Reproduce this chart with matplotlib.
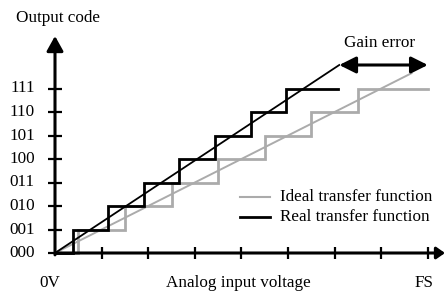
import numpy as np
import matplotlib.pyplot as plt

# ===============================
# Data (in LSB units)
# ===============================
codes = [0, 1, 2, 3, 4, 5, 6, 7]
code_labels = ["000", "001", "010", "011", "100", "101", "110", "111"]
ideal_transitions = [0.5, 1.5, 2.5, 3.5, 4.5, 5.5, 6.5]
real_transitions = [0.38, 1.14, 1.9, 2.67, 3.44, 4.2, 4.96]
ideal_end = 8.0
real_end = 6.07
ideal_line = ([0, 7.65], [0, 7.65])
real_line = ([0, 6.1], [0, 8.0])
x_ticks = [1, 2, 3, 4, 5, 6, 7, 8]
gain_error = (6.1, 8.0, 8.0)  # x start, x end, y

gray = "#ababab"
plt.rcParams["font.family"] = ["Liberation Serif", "DejaVu Serif"]
fs = 12.3


def staircase(transitions, end):
    xs = [0]
    ys = [codes[0]]
    for t, c in zip(transitions, codes[1:]):
        xs += [t, t]
        ys += [ys[-1], c]
    xs.append(end)
    ys.append(ys[-1])
    return xs, ys


# ===============================
# Figure with pixel-matched data limits
# ===============================
fig = plt.figure(figsize=(4.45, 2.96), dpi=100)
ax = fig.add_axes([0, 0, 1, 1])
px_x, px_y = 46.6, 23.5
ax.set_xlim(-55 / px_x, (445 - 55) / px_x)
ax.set_ylim((253 - 296) / px_y, 253 / px_y)
ax.axis("off")


def px(x, y):
    # pixel position (from top-left) -> data units
    return (x - 55) / px_x, (253 - y) / px_y


# axes with arrows
ax.annotate("", xy=(0, (253 - 36) / px_y), xytext=(0, -0.08),
            arrowprops=dict(arrowstyle="-|>,head_length=0.9,head_width=0.5",
                            lw=2.2, color="black", shrinkA=0, shrinkB=0))
ax.annotate("", xy=((445 - 55) / px_x, 0), xytext=(0, 0),
            arrowprops=dict(arrowstyle="-|>,head_length=0.5,head_width=0.35",
                            lw=2.2, color="black", shrinkA=0, shrinkB=0))

# ticks
ax.hlines(codes, -0.15, 0.15, color="black", lw=1.6)
ax.vlines(x_ticks, -0.26, 0.26, color="black", lw=1.6)
for c, lab in zip(codes, code_labels):
    ax.text(-20 / px_x, c, lab, ha="right", va="center", fontsize=fs)

# transfer functions
xs, ys = staircase(ideal_transitions, ideal_end)
ax.plot(xs, ys, color=gray, lw=2.0, solid_joinstyle="miter")
ax.plot(*ideal_line, color=gray, lw=1.4)
xs, ys = staircase(real_transitions, real_end)
ax.plot(xs, ys, color="black", lw=2.0, solid_joinstyle="miter")
ax.plot(*real_line, color="black", lw=1.3)

# gain error arrow
ax.annotate("", xy=(gain_error[1], gain_error[2]), xytext=(gain_error[0], gain_error[2]),
            arrowprops=dict(arrowstyle="<|-|>,head_length=1.0,head_width=0.5",
                            lw=2.2, color="black", shrinkA=0, shrinkB=0))
ax.text(*px(380, 43), "Gain error", ha="center", va="center", fontsize=fs)

# legend
lx0, lx1 = (240 - 55) / px_x, (270 - 55) / px_x
ax.plot([lx0, lx1], [(253 - 197) / px_y] * 2, color=gray, lw=1.5)
ax.plot([lx0, lx1], [(253 - 217) / px_y] * 2, color="black", lw=2.0)
ax.text(*px(280, 197), "Ideal transfer function", va="center", fontsize=fs)
ax.text(*px(280, 217), "Real transfer function", va="center", fontsize=fs)

# axis labels
ax.text(*px(58, 18), "Output code", ha="center", va="center", fontsize=fs)
ax.text(*px(50, 283), "0V", ha="center", va="center", fontsize=fs)
ax.text(*px(238, 283), "Analog input voltage", ha="center", va="center", fontsize=fs)
ax.text(*px(424, 283), "FS", ha="center", va="center", fontsize=fs)

fig.savefig("out.png", dpi=100)
